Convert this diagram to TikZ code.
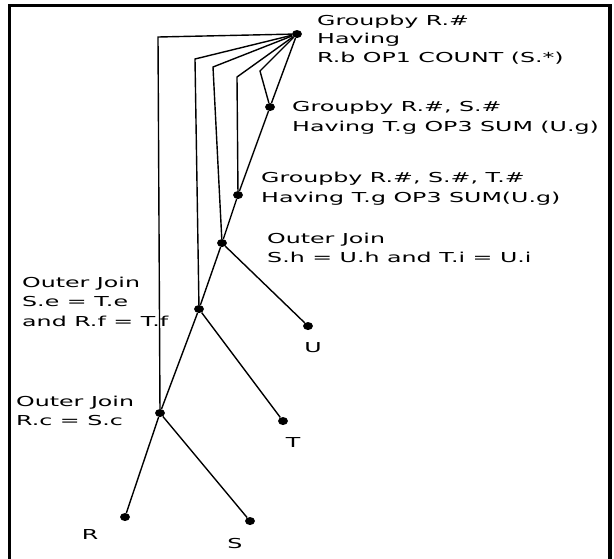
\documentclass[tikz,border=0pt]{standalone}
\usepackage{fontspec}
\setmainfont[FakeStretch=1.73]{DejaVu Sans}
\usetikzlibrary{shapes.geometric}

\begin{document}
\begin{tikzpicture}[
    x=1pt, y=-1pt,
    dot/.style={ellipse, fill=black, inner sep=0pt, minimum width=10pt, minimum height=8pt},
    edge/.style={line width=1.4pt},
    frame/.style={line width=3.3pt},
    lbl/.style={anchor=north west, inner sep=0pt, align=left, font=\fontsize{13.7}{19.5}\selectfont},
    leaf/.style={anchor=base, inner sep=0pt, font=\fontsize{13.7}{19.5}\selectfont}
]
    \useasboundingbox (0,0) rectangle (614,558);
    \draw[frame] (9.5,560) -- (9.5,5.5) -- (610,5.5) -- (610,560);

    % tree nodes
    \node[dot] (gb1) at (297,34) {};
    \node[dot] (gb2) at (270,107) {};
    \node[dot] (gb3) at (238,195) {};
    \node[dot] (oj3) at (222,243) {};
    \node[dot] (oj2) at (199,309) {};
    \node[dot] (oj1) at (160,413) {};
    \node[dot] (u) at (308,326) {};
    \node[dot] (t) at (283,421) {};
    \node[dot] (r) at (125,517) {};
    \node[dot] (s) at (250,521) {};

    % bends of the lines from the top node
    \coordinate (k1) at (158,37);
    \coordinate (k2) at (195,59);
    \coordinate (k3) at (213,67);
    \coordinate (k4) at (237,77);
    \coordinate (k5) at (260,71);

    % main chain and branches
    \foreach \a/\b in {r/oj1, oj1/oj2, oj2/oj3, oj3/gb3, gb3/gb2, gb2/gb1, oj1/s, oj2/t, oj3/u}
        \draw[edge] (\a) -- (\b);
    \foreach \k/\n in {k1/oj1, k2/oj2, k3/oj3, k4/gb3, k5/gb2}
        \draw[edge] (gb1) -- (\k) -- (\n);

    % labels
    \node[lbl, font=\fontsize{13.7}{18.5}\selectfont] (gb1l) at (317,14.6) {Groupby R.\#\\Having\\R.b OP1 COUNT (S.*)};
    \node[lbl, font=\fontsize{13.7}{20}\selectfont] (gb2l) at (292,100.6) {Groupby R.\#, S.\#\\Having T.g OP3 SUM (U.g)};
    \node[lbl, font=\fontsize{13.7}{20}\selectfont] (gb3l) at (261,171.6) {Groupby R.\#, S.\#, T.\#\\Having T.g OP3 SUM(U.g)};
    \node[lbl, font=\fontsize{13.7}{19}\selectfont] (oj3l) at (267,232.6) {Outer Join\\S.h = U.h and T.i = U.i};
    \node[lbl] (oj2l) at (22,276.6) {Outer Join\\S.e = T.e\\and R.f = T.f};
    \node[lbl, font=\fontsize{13.7}{19}\selectfont] (oj1l) at (16,395.6) {Outer Join\\R.c = S.c};
    \node[leaf] (ul) at (313,352) {U};
    \node[leaf] (tl) at (293,447) {T};
    \node[leaf] (rl) at (90,539) {R};
    \node[leaf] (sl) at (235,548) {S};
\end{tikzpicture}
\end{document}
